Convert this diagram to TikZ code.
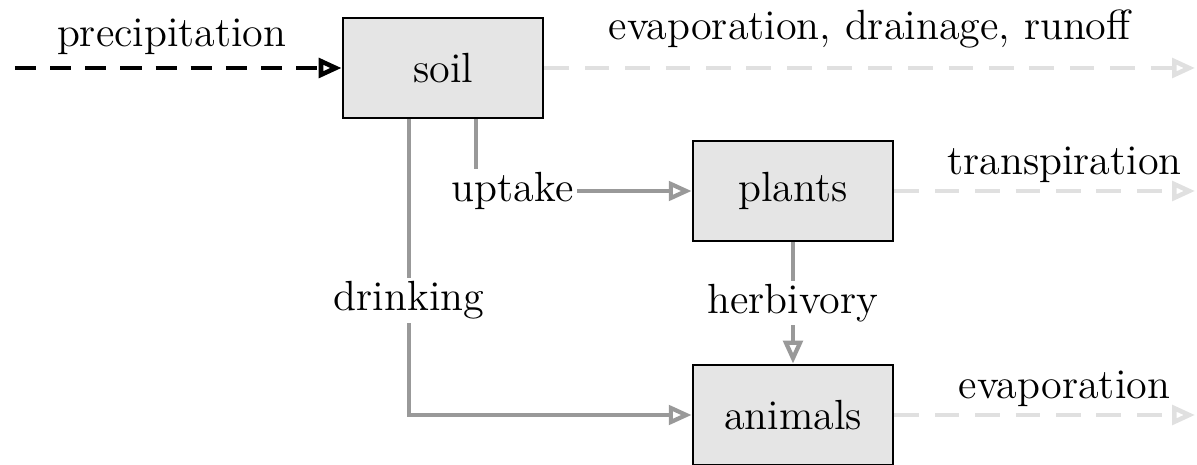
\documentclass[tikz,border=0pt]{standalone}
\usepackage{tikz}
\usetikzlibrary{arrows.meta,calc}
\tikzstyle{pool} = [rectangle, draw, thick, fill=black!10, minimum width=2cm, minimum height=1cm, font=\large]
\tikzstyle{flow} = [-{Triangle[open,length=6.5pt,width=5.5pt]}, line width=1.2pt, black!40]
\tikzstyle{loss} = [-{Triangle[open,length=6.5pt,width=5.5pt]}, line width=1.3pt, black!12, dash pattern=on 7pt off 4.5pt]
\tikzstyle{lbl} = [font=\large, fill=white, inner sep=1pt, text=black]

\begin{document}
\begin{tikzpicture}
    \useasboundingbox (0,0) rectangle (11.97,-4.65);

    % Water pools
    \node[pool] (soil) at (4.43,-0.68) {soil};
    \node[pool] (plants) at (7.93,-1.91) {plants};
    \node[pool] (animals) at (7.93,-4.15) {animals};

    % Free ends of inputs and losses
    \coordinate (rain) at (0.15,-0.68);
    \coordinate (outsoil) at (11.95,-0.68);
    \coordinate (outplants) at (11.95,-1.91);
    \coordinate (outanimals) at (11.95,-4.15);

    % Input
    \draw[-{Triangle[open,length=6.5pt,width=5.5pt]}, line width=1.3pt, dash pattern=on 6pt off 4pt] (rain) -- node[pos=0.48, anchor=base, yshift=6pt, font=\large] {precipitation} (soil);

    % Losses
    \draw[loss] (soil) -- node[pos=0.5, anchor=base, yshift=8pt, font=\large, text=black] {evaporation, drainage, runoff} (outsoil);
    \draw[loss] (plants) -- node[pos=0.566, anchor=base, yshift=4.6pt, font=\large, text=black] {transpiration} (outplants);
    \draw[loss] (animals) -- node[pos=0.566, anchor=base, yshift=4.8pt, font=\large, text=black] {evaporation} (outanimals);

    % Transfers between pools
    \draw[flow] ([xshift=0.33cm]soil.south) |- node[lbl, pos=0.585] {uptake} (plants);
    \draw[flow] ([xshift=-0.34cm]soil.south) |- node[lbl, pos=0.306] {drinking} (animals);
    \draw[flow] (plants) -- node[lbl] {herbivory} (animals);
\end{tikzpicture}
\end{document}
